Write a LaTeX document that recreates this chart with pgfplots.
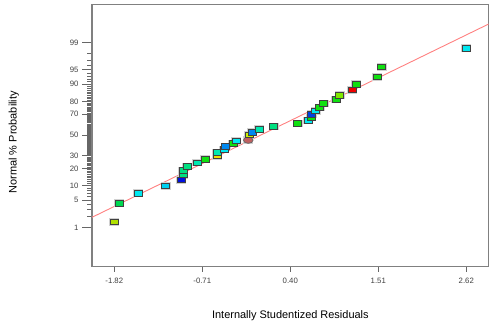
\documentclass[border=0pt]{standalone}
\usepackage{fontspec}
\setmainfont{Liberation Sans}
\usepackage{pgfplots}
\usepackage{pgfplotstable}
\pgfplotsset{compat=1.18}

\definecolor{cA}{HTML}{B0E000}
\definecolor{cB}{HTML}{00D850}
\definecolor{cC}{HTML}{00E8F0}
\definecolor{cD}{HTML}{00D0F0}
\definecolor{cE}{HTML}{0010E0}
\definecolor{cF}{HTML}{00E080}
\definecolor{cG}{HTML}{00E8B0}
\definecolor{cH}{HTML}{10E010}
\definecolor{cI}{HTML}{F0E000}
\definecolor{cJ}{HTML}{C06060}
\definecolor{cK}{HTML}{C8F000}
\definecolor{cL}{HTML}{0088F0}
\definecolor{cM}{HTML}{0040E0}
\definecolor{cN}{HTML}{80E800}
\definecolor{cO}{HTML}{F00000}
\definecolor{fitline}{HTML}{FF8080}

\pgfdeclareplotmark{rect}{\pgfpathrectangle{\pgfpoint{-4bp}{-2.8bp}}{\pgfpoint{8bp}{5.6bp}}\pgfusepathqfillstroke}
\pgfdeclareplotmark{halo}{\pgfpathrectangle{\pgfpoint{-5bp}{-3.8bp}}{\pgfpoint{10bp}{7.6bp}}\pgfusepathqfill}
\pgfdeclareplotmark{oval}{\pgfpathellipse{\pgfpointorigin}{\pgfpoint{4.8bp}{0bp}}{\pgfpoint{0bp}{3.2bp}}\pgfusepathqfillstroke}

\pgfplotstableread{
x z c
-1.824 -2.1893 A
-1.761 -1.7185 B
-1.517 -1.4652 C
-1.172 -1.2816 D
-0.979 -1.1332 E
-0.947 -1.0062 F
-0.947 -0.8938 F
-0.899 -0.7916 F
-0.773 -0.6971 G
-0.676 -0.6085 H
-0.525 -0.5244 I
-0.525 -0.4439 G
-0.437 -0.3661 C
-0.415 -0.2905 L
-0.319 -0.2165 H
-0.285 -0.1438 C
-0.130 -0.1300 J
-0.121 0.0000 K
-0.079 0.0717 L
0.009 0.1438 G
0.191 0.2165 F
0.493 0.2905 H
0.623 0.3661 C
0.661 0.4439 H
0.670 0.5244 M
0.720 0.6085 C
0.771 0.6971 H
0.821 0.7916 H
0.980 0.8938 H
1.023 1.0062 N
1.182 1.1332 O
1.232 1.2816 H
1.497 1.4652 H
1.553 1.7185 H
2.616 2.1893 C
}\residtable

\begin{document}
\begin{tikzpicture}
\useasboundingbox (0,0) rectangle (494bp,331bp);
\begin{axis}[
  at={(92bp,64.3bp)}, anchor=south west,
  scale only axis, width=396.7bp, height=262bp,
  xmin=-2.101, xmax=2.903, ymin=-3.317, ymax=3.282,
  axis line style={draw=black!50, line width=1.1bp},
  tick align=outside,
  xtick pos=lower, ytick pos=left,
  major tick length=10bp, minor tick length=5bp,
  tick style={draw=black!60, line width=0.8bp},
  xtick style={/pgfplots/major tick length=5bp},
  xtick={-1.82,-0.71,0.40,1.51,2.62},
  xticklabels={-1.82,-0.71,0.40,1.51,2.62},
  ytick={-2.3263,-1.6449,-1.2816,-0.8416,-0.5244,0,0.5244,0.8416,1.2816,1.6449,2.3263},
  yticklabels={1,5,10,20,30,50,70,80,90,95,99},
  minor ytick={-2.0537,-1.8808,-1.7507,-1.5548,-1.4758,-1.4051,-1.3408,-1.2265,-1.1750,-1.1264,-1.0803,-1.0364,-0.9945,-0.9542,-0.9154,-0.8779,-0.8064,-0.7722,-0.7388,-0.7063,-0.6745,-0.6433,-0.6128,-0.5828,-0.5534,-0.4959,-0.4677,-0.4399,-0.4125,-0.3853,-0.3585,-0.3319,-0.3055,-0.2793,-0.2533,-0.2275,-0.2019,-0.1764,-0.1510,-0.1257,-0.1004,-0.0753,-0.0502,-0.0251,0.0251,0.0502,0.0753,0.1004,0.1257,0.1510,0.1764,0.2019,0.2275,0.2533,0.2793,0.3055,0.3319,0.3585,0.3853,0.4125,0.4399,0.4677,0.4959,0.5534,0.5828,0.6128,0.6433,0.6745,0.7063,0.7388,0.7722,0.8064,0.8779,0.9154,0.9542,0.9945,1.0364,1.0803,1.1264,1.1750,1.2265,1.3408,1.4051,1.4758,1.5548,1.7507,1.8808,2.0537},
  ticklabel style={font=\fontsize{7.8}{9}\selectfont, text=black!75},
  xticklabel style={yshift=2bp},
  xlabel={Internally Studentized Residuals},
  ylabel={Normal \% Probability},
  label style={font=\fontsize{11}{13}\selectfont},
  xlabel style={at={(axis description cs:0.5,-0.187)}, anchor=center},
  ylabel style={at={(axis description cs:-0.197,0.475)}, anchor=center},
]
\addplot[fitline, line width=0.9bp] coordinates {(-2.101,-2.073) (2.903,2.796)};
\addplot[only marks, mark=halo, color=black!18] table[x=x, y=z] \residtable;
\addplot[scatter, only marks, scatter src=explicit symbolic,
  scatter/classes={
    A={mark=rect, fill=cA, draw=black!75, line width=0.7bp},
    B={mark=rect, fill=cB, draw=black!75, line width=0.7bp},
    C={mark=rect, fill=cC, draw=black!75, line width=0.7bp},
    D={mark=rect, fill=cD, draw=black!75, line width=0.7bp},
    E={mark=rect, fill=cE, draw=black!75, line width=0.7bp},
    F={mark=rect, fill=cF, draw=black!75, line width=0.7bp},
    G={mark=rect, fill=cG, draw=black!75, line width=0.7bp},
    H={mark=rect, fill=cH, draw=black!75, line width=0.7bp},
    I={mark=rect, fill=cI, draw=black!75, line width=0.7bp},
    J={mark=oval, fill=cJ, draw=black!60, line width=0.7bp},
    K={mark=rect, fill=cK, draw=black!75, line width=0.7bp},
    L={mark=rect, fill=cL, draw=black!75, line width=0.7bp},
    M={mark=rect, fill=cM, draw=black!75, line width=0.7bp},
    N={mark=rect, fill=cN, draw=black!75, line width=0.7bp},
    O={mark=rect, fill=cO, draw=black!75, line width=0.7bp}}
] table[x=x, y=z, meta=c] \residtable;
\end{axis}
\end{tikzpicture}
\end{document}
